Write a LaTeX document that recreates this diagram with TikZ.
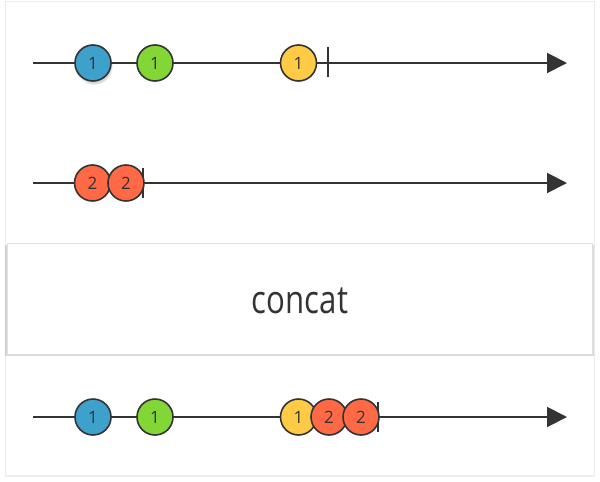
\documentclass[tikz,border=0pt]{standalone}
\usepackage{fontspec}
\setmainfont{Open Sans}
\newfontfamily\opfont[FakeStretch=0.8]{Open Sans}
\usepackage{xcolor}
\usetikzlibrary{positioning,shadows,arrows.meta}

\definecolor{ink}{HTML}{333333}
\definecolor{mblue}{HTML}{3EA1CB}
\definecolor{mgreen}{HTML}{82D736}
\definecolor{myellow}{HTML}{FFCB46}
\definecolor{mred}{HTML}{FF6946}

\begin{document}
\begin{tikzpicture}[x=1pt,y=-1pt,
        marble/.style={circle, draw=ink, line width=1.6pt, minimum size=36pt, inner sep=0pt, text=ink, font=\fontsize{17}{17}\selectfont},
        timeline/.style={draw=ink, line width=2pt, -{Triangle[length=20pt,width=20pt]}},
        stopbar/.style={draw=ink, line width=2pt}]
        \useasboundingbox (0,0) rectangle (600,482);

        % card
        \node[draw=black!8, fill=white, minimum width=589pt, minimum height=474pt, inner sep=0pt,
              drop shadow={opacity=.12, shadow xshift=0pt, shadow yshift=-1.5pt}] (card) at (299.5,238) {};

        % first input
        \coordinate (s1) at (33,63);
        \coordinate (e1) at (567,63);
        \draw[timeline] (s1) -- (e1);
        \coordinate (t1a) at (327.5,47);
        \coordinate (t1b) at (327.5,77);
        \draw[stopbar] (t1a) -- (t1b);
        \node[marble, fill=mblue, circular drop shadow={opacity=.35, shadow xshift=1pt, shadow yshift=-3pt, shadow scale=1.05}] (a1) at (93,63) {1};
        \node[marble, fill=mgreen] (a2) at (155,63) {1};
        \node[marble, fill=myellow] (a3) at (298.5,63) {1};

        % second input
        \coordinate (s2) at (33,183);
        \coordinate (e2) at (567,183);
        \draw[timeline] (s2) -- (e2);
        \coordinate (t2a) at (142.5,168);
        \coordinate (t2b) at (142.5,198);
        \draw[stopbar] (t2a) -- (t2b);
        \node[marble, fill=mred] (b1) at (92.5,183) {2};
        \node[marble, fill=mred] (b2) at (126,183) {2};

        % operator
        \node[draw=black!12, fill=white, minimum width=585pt, minimum height=111pt, inner sep=0pt,
              drop shadow={opacity=.3, shadow xshift=0pt, shadow yshift=-2pt, shadow scale=1.006}] (op) at (299.5,298.5) {};
        \node[text=ink, font=\opfont\fontsize{39}{39}\selectfont, anchor=base] (oplabel) at (300,313) {concat};

        % output
        \coordinate (s3) at (33,417);
        \coordinate (e3) at (567,417);
        \draw[timeline] (s3) -- (e3);
        \coordinate (t3a) at (378,402);
        \coordinate (t3b) at (378,432);
        \draw[stopbar] (t3a) -- (t3b);
        \node[marble, fill=mblue] (c1) at (93,417) {1};
        \node[marble, fill=mgreen] (c2) at (155,417) {1};
        \node[marble, fill=myellow] (c3) at (298.5,417) {1};
        \node[marble, fill=mred] (c4) at (329,417) {2};
        \node[marble, fill=mred] (c5) at (361,417) {2};
\end{tikzpicture}
\end{document}
